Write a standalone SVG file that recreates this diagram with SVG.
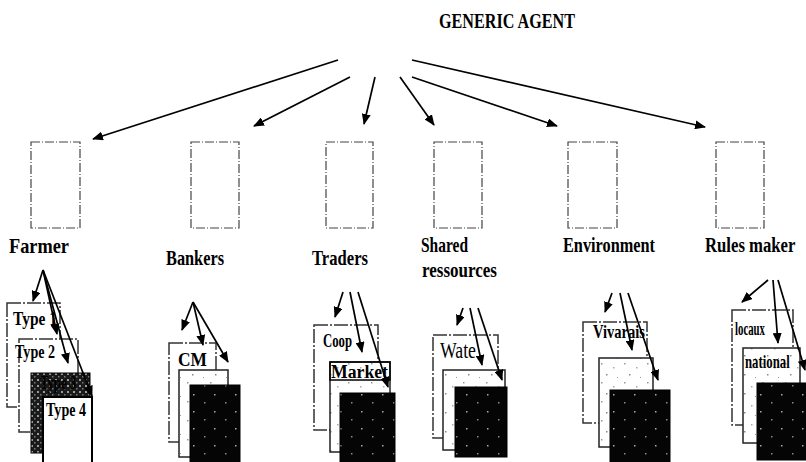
<svg xmlns="http://www.w3.org/2000/svg" width="806" height="462" viewBox="0 0 806 462">
  <style>
    .lbl { font-family: "Liberation Serif", "DejaVu Serif", serif; font-weight: bold; font-size: 22px; fill: #000; }
    .sub { font-family: "Liberation Serif", "DejaVu Serif", serif; font-weight: bold; font-size: 18px; fill: #000; }
    .title { font-family: "Liberation Serif", "DejaVu Serif", serif; font-weight: bold; font-size: 20px; fill: #000; }
    .slot { fill: none; stroke: #444; stroke-width: 1.2; stroke-dasharray: 9 2 1 2; }
    .back { fill: #fff; stroke: #333; stroke-width: 1.5; stroke-dasharray: 14 2 2 2; }
    .mid { fill: url(#speck); stroke: #222; stroke-width: 1.5; }
    .front { fill: url(#dark); stroke: #000; stroke-width: 1; }
    .plain { fill: #fff; stroke: #000; stroke-width: 2; }
    .conn line { stroke: #000; stroke-width: 1.7; marker-end: url(#head); }
  </style>
  <defs>
    <marker id="head" markerUnits="userSpaceOnUse" markerWidth="11" markerHeight="9" refX="10" refY="4.5" orient="auto">
      <path d="M0,0 L11,4.5 L0,9 z" fill="#000"/>
    </marker>
    <!-- sparse grey speckle for the middle cards -->
    <pattern id="speck" width="23" height="19" patternUnits="userSpaceOnUse">
      <rect width="23" height="19" fill="#fff"/>
      <rect x="3" y="2" width="1.5" height="1.5" fill="#999"/>
      <rect x="15" y="6" width="1.5" height="1.5" fill="#aaa"/>
      <rect x="8" y="13" width="1.5" height="1.5" fill="#888"/>
      <rect x="19" y="16" width="1" height="1" fill="#999"/>
    </pattern>
    <!-- near-black card with a few light specks -->
    <pattern id="dark" width="21" height="17" patternUnits="userSpaceOnUse">
      <rect width="21" height="17" fill="#050505"/>
      <rect x="4" y="3" width="1.5" height="1.5" fill="#aaa"/>
      <rect x="15" y="11" width="1.5" height="1.5" fill="#888"/>
    </pattern>
    <pattern id="hatch" width="6" height="6" patternUnits="userSpaceOnUse">
      <rect width="6" height="6" fill="#1a1a1a"/>
      <rect x="1" y="1" width="2" height="2" fill="#9a9a9a"/>
      <rect x="4" y="4" width="1.5" height="1.5" fill="#777"/>
    </pattern>
  </defs>

  <rect width="806" height="462" fill="#fff"/>

  <!-- root node -->
  <g id="generic-agent">
    <text class="title" x="439" y="28" textLength="136" lengthAdjust="spacingAndGlyphs">GENERIC AGENT</text>
  </g>

  <!-- agent families -->
  <g id="farmer">
    <rect class="slot" x="31" y="142" width="49" height="86"/>
    <text class="lbl" x="9" y="253" textLength="60" lengthAdjust="spacingAndGlyphs">Farmer</text>
    <rect class="back" x="7" y="303" width="53" height="104"/>
    <text class="sub" x="13" y="325" textLength="44" lengthAdjust="spacingAndGlyphs">Type 1</text>
    <rect class="back" x="19" y="339" width="59" height="93"/>
    <text class="sub" x="15" y="358" textLength="40" lengthAdjust="spacingAndGlyphs">Type 2</text>
    <rect x="31" y="373" width="59" height="80" fill="url(#hatch)" stroke="#000"/>
    <text class="sub" x="40" y="389" textLength="36" lengthAdjust="spacingAndGlyphs" fill="#222">Type 3</text>
    <rect class="plain" x="43" y="397" width="49" height="75"/>
    <text class="sub" x="46" y="416" textLength="40" lengthAdjust="spacingAndGlyphs">Type 4</text>
  </g>

  <g id="bankers">
    <rect class="slot" x="191" y="142" width="48" height="86"/>
    <text class="lbl" x="166" y="265" textLength="58" lengthAdjust="spacingAndGlyphs">Bankers</text>
    <rect class="back" x="169" y="343" width="47" height="99"/>
    <text class="sub" x="178" y="366" textLength="29" lengthAdjust="spacingAndGlyphs">CM</text>
    <rect class="mid" x="179" y="370" width="49" height="87"/>
    <rect class="front" x="190" y="385" width="50" height="85"/>
  </g>

  <g id="traders">
    <rect class="slot" x="326" y="142" width="47" height="86"/>
    <text class="lbl" x="312" y="265" textLength="56" lengthAdjust="spacingAndGlyphs">Traders</text>
    <rect class="back" x="314" y="325" width="64" height="105"/>
    <text class="sub" x="323" y="347" textLength="29" lengthAdjust="spacingAndGlyphs">Coop</text>
    <rect class="mid" x="330" y="362" width="60" height="90"/>
    <rect x="330" y="362" width="60" height="18" fill="none" stroke="#000" stroke-width="1.5"/>
    <text class="sub" x="331" y="378" textLength="57" lengthAdjust="spacingAndGlyphs">Market</text>
    <rect class="front" x="340" y="393" width="55" height="75"/>
  </g>

  <g id="shared-ressources">
    <rect class="slot" x="434" y="142" width="48" height="86"/>
    <text class="lbl" x="421" y="252" textLength="47" lengthAdjust="spacingAndGlyphs">Shared</text>
    <text class="lbl" x="422" y="277" textLength="75" lengthAdjust="spacingAndGlyphs">ressources</text>
    <rect class="back" x="433" y="335" width="65" height="103" stroke-dasharray="none"/>
    <text x="440" y="358" textLength="36" lengthAdjust="spacingAndGlyphs" font-family="Liberation Serif, serif" font-size="23">Wate</text>
    <rect class="mid" x="443" y="370" width="62" height="80"/>
    <rect class="front" x="455" y="387" width="52" height="70"/>
  </g>

  <g id="environment">
    <rect class="slot" x="568" y="142" width="49" height="86"/>
    <text class="lbl" x="563" y="252" textLength="92" lengthAdjust="spacingAndGlyphs">Environment</text>
    <rect class="back" x="583" y="322" width="64" height="101"/>
    <text class="sub" x="593" y="338" textLength="52" lengthAdjust="spacingAndGlyphs">Vivarais</text>
    <rect class="mid" x="599" y="358" width="54" height="89"/>
    <rect class="front" x="610" y="390" width="60" height="78"/>
  </g>

  <g id="rules-maker">
    <rect class="slot" x="716" y="142" width="48" height="86"/>
    <!-- horizontally condensed so the label stays inside the right edge -->
    <text class="lbl" transform="translate(705,252) scale(0.76,1)">Rules maker</text>
    <rect class="back" x="732" y="310" width="61" height="115"/>
    <text class="sub" x="735" y="335" textLength="30" lengthAdjust="spacingAndGlyphs">locaux</text>
    <rect class="mid" x="743" y="348" width="57" height="95"/>
    <text class="sub" transform="translate(745,368) scale(0.71,1)">national</text>
    <rect class="front" x="757" y="383" width="55" height="77"/>
  </g>

  <!-- connectors -->
  <g id="connectors" class="conn">
    <line x1="338" y1="60" x2="93" y2="139"/>
    <line x1="350" y1="77" x2="254" y2="126"/>
    <line x1="375" y1="77" x2="364" y2="124"/>
    <line x1="400" y1="77" x2="434" y2="125"/>
    <line x1="412" y1="77" x2="557" y2="126"/>
    <line x1="412" y1="60" x2="705" y2="127"/>

    <line x1="43" y1="270" x2="33" y2="301"/>
    <line x1="43" y1="270" x2="57" y2="334"/>
    <line x1="43" y1="270" x2="68" y2="363"/>
    <line x1="43" y1="270" x2="92" y2="396"/>

    <line x1="193" y1="302" x2="182" y2="330"/>
    <line x1="193" y1="302" x2="203" y2="345"/>
    <line x1="193" y1="302" x2="228" y2="362"/>

    <line x1="343" y1="292" x2="335" y2="317"/>
    <line x1="350" y1="292" x2="362" y2="352"/>
    <line x1="358" y1="292" x2="388" y2="387"/>

    <line x1="463" y1="308" x2="457" y2="325"/>
    <line x1="470" y1="308" x2="482" y2="365"/>
    <line x1="478" y1="308" x2="502" y2="380"/>

    <line x1="612" y1="293" x2="605" y2="312"/>
    <line x1="620" y1="293" x2="632" y2="350"/>
    <line x1="628" y1="293" x2="658" y2="380"/>

    <line x1="768" y1="280" x2="742" y2="302"/>
    <line x1="773" y1="280" x2="778" y2="343"/>
    <line x1="778" y1="280" x2="805" y2="370"/>
  </g>
</svg>
